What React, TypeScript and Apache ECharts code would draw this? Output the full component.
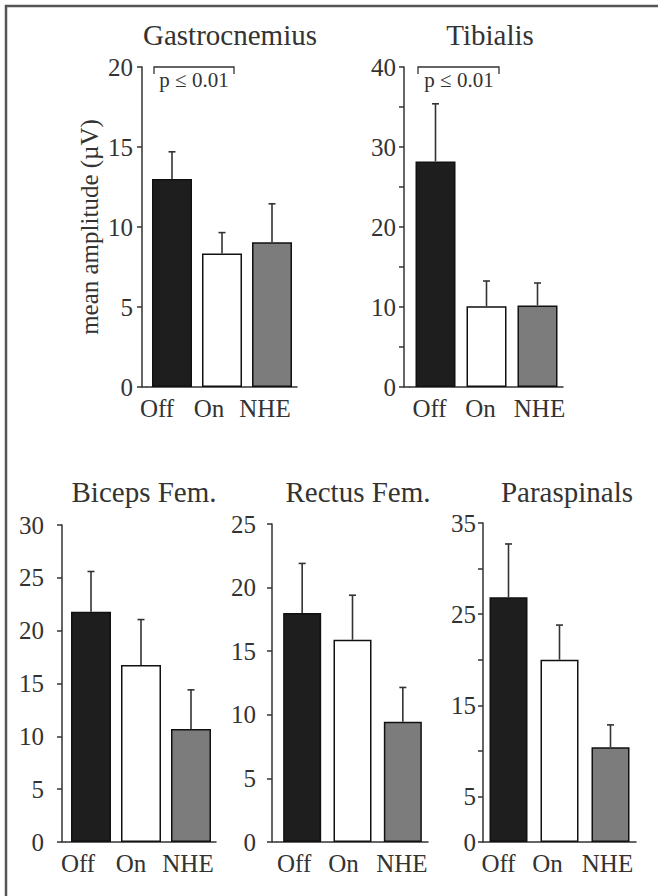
import React, { useEffect, useRef } from "react";
import * as echarts from "echarts";

const categories = ["Off", "On", "NHE"];

const titles = ["Gastrocnemius", "Tibialis", "Biceps Fem.", "Rectus Fem.", "Paraspinals"];

const gastroMean = [13.0, 8.35, 9.05];
const gastroErr = [1.7, 1.3, 2.4];
const tibialisMean = [28.2, 10.1, 10.2];
const tibialisErr = [7.2, 3.15, 2.8];
const bicepsMean = [21.8, 16.75, 10.7];
const bicepsErr = [3.8, 4.3, 3.7];
const rectusMean = [18.0, 15.9, 9.45];
const rectusErr = [3.9, 3.5, 2.7];
const paraMean = [26.85, 20.0, 10.4];
const paraErr = [5.85, 3.8, 2.45];

const yMax = [20, 40, 30, 25, 35];
const yInterval = [5, 5, 5, 5, 5];
const yLabelEvery = [
  (v: number) => true,
  (v: number) => v % 10 === 0,
  (v: number) => true,
  (v: number) => true,
  (v: number) => v === 0 || v % 10 === 5,
];
const yAxisName = "mean amplitude (\u00b5V)";
const pText = "p \u2264 0.01";

const means = [gastroMean, tibialisMean, bicepsMean, rectusMean, paraMean];
const errs = [gastroErr, tibialisErr, bicepsErr, rectusErr, paraErr];

const barColors = ["#1e1e1e", "#ffffff", "#7c7c7c"];

// layout (positions only)
const layouts = [
  { left: 147, top: 67, width: 150, height: 320, yOffset: 5, barWidth: 40, labelMargin: 9, titleX: 230, titleY: 35, shift: [-15, -13, -7] },
  { left: 410, top: 67, width: 153, height: 320, yOffset: 6, barWidth: 40, labelMargin: 8, titleX: 490, titleY: 35, shift: [-6, -6, 2] },
  { left: 66, top: 525, width: 150, height: 317, yOffset: 4, barWidth: 40, labelMargin: 18, titleX: 144, titleY: 492, shift: [-13, -10, -3] },
  { left: 277, top: 524, width: 151, height: 318, yOffset: 5, barWidth: 38, labelMargin: 16, titleX: 358, titleY: 492, shift: [-8, -9, -1] },
  { left: 483, top: 523, width: 153, height: 319, yOffset: 0, barWidth: 38, labelMargin: 7, titleX: 567, titleY: 492, shift: [-10, -12, -3] },
];

const annotations = [
  { x1: 154, x2: 234, y: 67, tx: 194, ty: 80 },
  { x1: 418, x2: 499, y: 67, tx: 459, ty: 80 },
];

const FONT = "'Liberation Serif', 'Times New Roman', serif";
const TEXT = "#333333";
const LINE = "#333333";

export default function App() {
  const ref = useRef<HTMLDivElement>(null);
  useEffect(() => {
    document.body.style.margin = "0";
    if (!ref.current) return;
    const chart = echarts.init(ref.current, undefined, { renderer: "svg" });

    const grid: any[] = [];
    const xAxis: any[] = [];
    const yAxis: any[] = [];
    const series: any[] = [];
    const graphic: any[] = [];

    layouts.forEach((L, k) => {
      grid.push({ left: L.left, top: L.top, width: L.width, height: L.height, containLabel: false });
      const rich: any = {};
      L.shift.forEach((s, i) => {
        rich["c" + i] = {
          fontFamily: FONT,
          fontSize: 25,
          color: TEXT,
          padding: s < 0 ? [0, -2 * s, 0, 0] : [0, 0, 0, 2 * s],
        };
      });
      xAxis.push({
        type: "category",
        gridIndex: k,
        data: categories,
        axisLine: { show: true, lineStyle: { color: LINE, width: 1.5 } },
        axisTick: { show: false },
        axisLabel: {
          interval: 0,
          hideOverlap: false,
          margin: 9,
          fontFamily: FONT,
          fontSize: 25,
          color: TEXT,
          formatter: (v: string) => {
            const i = categories.indexOf(v);
            return "{c" + i + "|" + v + "}";
          },
          rich,
        },
        splitLine: { show: false },
      });
      const labelFn = yLabelEvery[k];
      yAxis.push({
        type: "value",
        gridIndex: k,
        min: 0,
        max: yMax[k],
        interval: yInterval[k],
        offset: L.yOffset,
        name: k === 0 ? yAxisName : "",
        nameLocation: "middle",
        nameGap: 40,
        nameRotate: 90,
        nameTextStyle: { fontFamily: FONT, fontSize: 25, color: TEXT },
        axisLine: { show: true, lineStyle: { color: LINE, width: 1.5 } },
        axisTick: { show: true, inside: false, length: 5, lineStyle: { color: LINE, width: 1.5 } },
        axisLabel: {
          margin: L.labelMargin,
          fontFamily: FONT,
          fontSize: 25,
          color: TEXT,
          formatter: (v: number) => (labelFn(v) ? String(v) : ""),
        },
        splitLine: { show: false },
      });
      series.push({
        type: "bar",
        xAxisIndex: k,
        yAxisIndex: k,
        barWidth: L.barWidth,
        data: means[k].map((v, i) => ({
          value: v,
          itemStyle: { color: barColors[i], borderColor: "#111", borderWidth: 1.5 },
        })),
        z: 2,
      });
      series.push({
        type: "custom",
        xAxisIndex: k,
        yAxisIndex: k,
        z: 3,
        encode: { x: 0, y: 1 },
        data: means[k].map((v, i) => [i, v, errs[k][i]]),
        renderItem: (params: any, api: any) => {
          const x = api.value(0);
          const m = api.value(1);
          const e = api.value(2);
          const p0 = api.coord([x, m]);
          const p1 = api.coord([x, m + e]);
          return {
            type: "group",
            children: [
              { type: "line", shape: { x1: p0[0], y1: p0[1], x2: p1[0], y2: p1[1] }, style: { stroke: LINE, lineWidth: 1.6 } },
              { type: "line", shape: { x1: p1[0] - 3.5, y1: p1[1], x2: p1[0] + 3.5, y2: p1[1] }, style: { stroke: LINE, lineWidth: 1.6 } },
            ],
          };
        },
      });
      // title
      graphic.push({
        type: "text",
        x: L.titleX,
        y: L.titleY,
        style: { text: titles[k], font: `29px ${FONT}`, fill: TEXT, align: "center", verticalAlign: "middle" },
      });
      // baseline fill between offset y-axis and grid start
      if (L.yOffset > 0) {
        const by = L.top + L.height;
        graphic.push({
          type: "line",
          shape: { x1: L.left - L.yOffset, y1: by, x2: L.left, y2: by },
          style: { stroke: LINE, lineWidth: 1.5 },
        });
      }
    });

    annotations.forEach((a) => {
      graphic.push({
        type: "polyline",
        shape: { points: [[a.x1, a.y + 7], [a.x1, a.y], [a.x2, a.y], [a.x2, a.y + 7]] },
        style: { stroke: LINE, lineWidth: 1.3, fill: null },
      });
      graphic.push({
        type: "text",
        x: a.tx,
        y: a.ty,
        style: { text: pText, font: `21px ${FONT}`, fill: TEXT, align: "center", verticalAlign: "middle" },
      });
    });

    // frame (left and top edges)
    graphic.push({
      type: "polyline",
      shape: { points: [[6, 896], [6, 6], [658, 6]] },
      style: { stroke: "#555", lineWidth: 2.5, fill: null },
    });

    chart.setOption({
      animation: false,
      backgroundColor: "#ffffff",
      grid,
      xAxis,
      yAxis,
      series,
      graphic,
    });
    return () => chart.dispose();
  }, []);
  return <div ref={ref} style={{ width: 658, height: 896 }} />;
}
